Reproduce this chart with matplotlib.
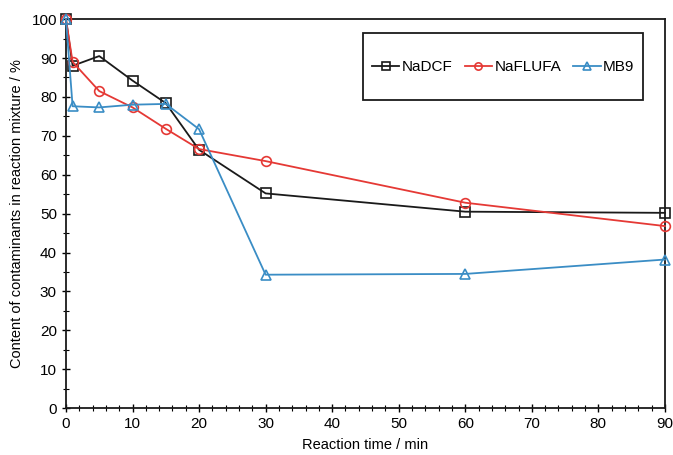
import matplotlib.pyplot as plt
from matplotlib.patches import Rectangle
from matplotlib.ticker import MultipleLocator

plt.rcParams['font.family'] = ['Liberation Sans', 'DejaVu Sans']

# data
time_min = [0, 1, 5, 10, 15, 20, 30, 60, 90]
nadcf = [100, 88.0, 90.5, 84.2, 78.4, 66.4, 55.2, 50.5, 50.2]
naflufa = [100, 89.0, 81.5, 77.3, 71.8, 66.6, 63.5, 52.8, 46.8]
mb9 = [100, 77.6, 77.3, 78.0, 78.2, 71.7, 34.3, 34.5, 38.2]

SERIES = [
    ('NaDCF', nadcf, '#1a1a1a', 's'),
    ('NaFLUFA', naflufa, '#e53935', 'o'),
    ('MB9', mb9, '#3a8dc5', '^'),
]

fig = plt.figure(figsize=(6.73, 4.55), dpi=100)
ax = fig.add_axes([0.098, 0.103, 0.890, 0.855])

for name, values, color, marker in SERIES:
    ax.plot(time_min, values, color=color, lw=1.3, marker=marker,
            markersize=7, markerfacecolor='none', markeredgecolor=color,
            markeredgewidth=1.2, label=name, clip_on=False, zorder=3)

ax.set_xlim(0, 90)
ax.set_ylim(0, 100)
ax.xaxis.set_major_locator(MultipleLocator(10))
ax.xaxis.set_minor_locator(MultipleLocator(2))
ax.yaxis.set_major_locator(MultipleLocator(10))
ax.yaxis.set_minor_locator(MultipleLocator(5))
ax.tick_params(which='major', direction='inout', length=6, width=1,
               labelsize=11, top=False, right=False)
ax.tick_params(which='minor', direction='inout', length=4, width=0.8,
               top=False, right=False)
for sp in ax.spines.values():
    sp.set_linewidth(1.3)
    sp.set_color('#1a1a1a')

ax.set_xlabel('Reaction time / min', fontsize=10.5, labelpad=5)
ax.set_ylabel('Content of contaminants in reaction mixture / %',
              fontsize=10.5, labelpad=5)

# legend box is drawn by hand, it is taller than the legend itself
box = Rectangle((0.496, 0.792), 0.467, 0.172, transform=ax.transAxes,
                fill=True, facecolor='white', edgecolor='#1a1a1a', lw=1.3,
                zorder=4)
ax.add_patch(box)
leg = ax.legend(loc='center', bbox_to_anchor=(0.730, 0.877), ncol=3,
                fontsize=11, frameon=False, handlelength=1.8,
                handletextpad=0.15, columnspacing=0.8, markerscale=0.75)
leg.set_zorder(5)

fig.savefig('out.png', dpi=100)
